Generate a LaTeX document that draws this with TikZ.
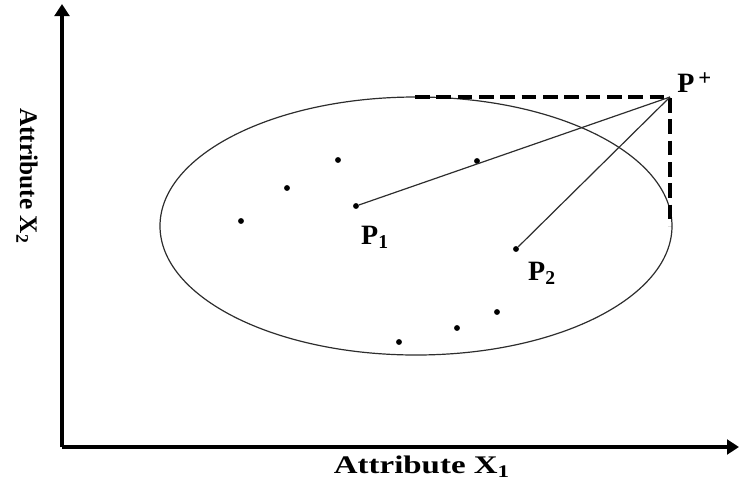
\documentclass[tikz,border=0pt]{standalone}
\usepackage{fontspec}
\setmainfont{Liberation Serif}
\usetikzlibrary{arrows.meta}

\begin{document}
\begin{tikzpicture}[
    x=0.75pt, y=-0.75pt,
    every node/.style={font=\bfseries\fontsize{21}{24}\selectfont},
    line join=round,
    dot/.style={circle, fill=black, inner sep=0pt, minimum size=4.4pt},
    axis/.style={line width=2.3pt, -{Triangle[length=9pt, width=11pt]}},
    link/.style={draw=linegray, line width=0.9pt},
    bound/.style={line width=2.4pt, dash pattern=on 11pt off 5pt}
]

% Colors
\definecolor{linegray}{RGB}{45,45,45}

\useasboundingbox (0,0) rectangle (740,487);

% ----------------------------------------------------
% Axes
% ----------------------------------------------------
\coordinate (origin) at (62,447);
\coordinate (ytop) at (62,4);
\coordinate (xend) at (739,447);

\draw[axis] (origin) -- (ytop);
\draw[axis] (origin) -- (xend);

\node[xscale=1.3, font=\bfseries\fontsize{19}{22}\selectfont] (xlab) at (422,467) {Attribute X\textsubscript{1}};
\node[rotate=-90, font=\bfseries\fontsize{19}{22}\selectfont] (ylab) at (27,176) {Attribute X\textsubscript{2}};

% ----------------------------------------------------
% Cluster boundary
% ----------------------------------------------------
\draw[linegray, line width=0.9pt] (416,226) ellipse[x radius=256, y radius=129];

% ideal point and its bounding lines
\coordinate (pplus) at (670,97);
\coordinate (ptop) at (415,97);
\coordinate (pright) at (670,226);

\draw[bound] (ptop) -- (pplus) -- (pright);

% ----------------------------------------------------
% Data points
% ----------------------------------------------------
\node[dot] (p1) at (356,206) {};
\node[dot] (p2) at (516,249) {};

\node[dot] (a) at (241,221) {};
\node[dot] (b) at (287,188) {};
\node[dot] (c) at (338,160) {};
\node[dot] (d) at (477,161) {};
\node[dot] (e) at (399,342) {};
\node[dot] (f) at (457,328) {};
\node[dot] (g) at (497,312) {};

% ----------------------------------------------------
% Distances to P+
% ----------------------------------------------------
\draw[link] (p1) -- (pplus);
\draw[link] (p2) -- (pplus);

% ----------------------------------------------------
% Labels
% ----------------------------------------------------
\node[anchor=south west, inner sep=0pt] (lplus) at (677,93)
    {P\hspace{3pt}\raisebox{0.6ex}{\fontsize{17}{17}\selectfont +}};
\node (lp1) at (375,237) {P\textsubscript{1}};
\node (lp2) at (542,273) {P\textsubscript{2}};

\end{tikzpicture}
\end{document}
